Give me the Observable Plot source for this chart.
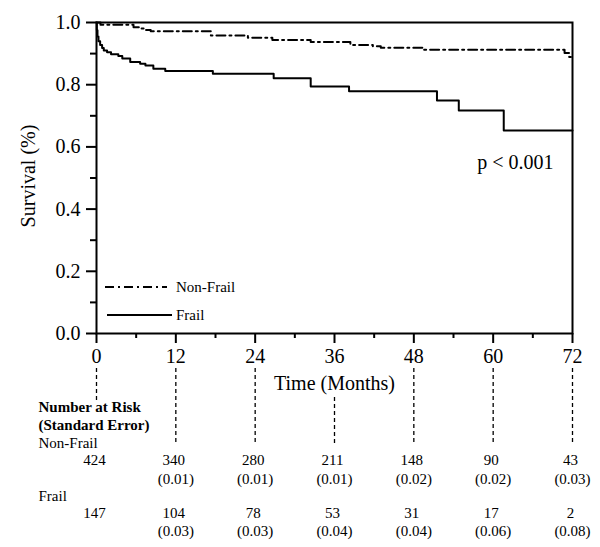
<!DOCTYPE html>
<html>
<head>
<meta charset="utf-8">
<script src="https://cdn.jsdelivr.net/npm/d3@7"></script>
<script src="https://cdn.jsdelivr.net/npm/@observablehq/plot@0.6"></script>
<style>
  html, body { margin: 0; padding: 0; background: #fff; }
  #wrap { position: relative; width: 600px; height: 547px; font-family: "Liberation Serif", "Times New Roman", serif; }
  #legend { position: absolute; left: 0; top: 0; pointer-events: none; }
</style>
</head>
<body>
<div id="wrap"></div>
<script>
// ---- Data ----
const frailTime = [0, 0.05, 0.15, 0.3, 0.55, 0.85, 1.1, 1.6, 2.2, 3.3, 3.9, 5.1, 6.6, 7.4, 8.6, 10.4, 17.6, 26.8, 32.4, 38.2, 51.5, 54.8, 61.6, 72];
const frailSurv = [1.0, 0.975, 0.955, 0.94, 0.928, 0.918, 0.91, 0.904, 0.898, 0.892, 0.884, 0.873, 0.867, 0.862, 0.851, 0.844, 0.835, 0.821, 0.794, 0.779, 0.749, 0.717, 0.653, 0.653];

const nonFrailTime = [0, 0.6, 5.6, 6.6, 7.4, 8.2, 17.3, 22.9, 26.6, 32.4, 38.4, 41.8, 43.0, 49.5, 70.8, 71.5, 72];
const nonFrailSurv = [1.0, 0.993, 0.985, 0.981, 0.976, 0.972, 0.958, 0.951, 0.944, 0.937, 0.928, 0.924, 0.919, 0.912, 0.902, 0.889, 0.889];

const riskTimes = [0, 12, 24, 36, 48, 60, 72];
const nonFrailRisk = [424, 340, 280, 211, 148, 90, 43];
const nonFrailSE = ["", "(0.01)", "(0.01)", "(0.01)", "(0.02)", "(0.02)", "(0.03)"];
const frailRisk = [147, 104, 78, 53, 31, 17, 2];
const frailSE = ["", "(0.03)", "(0.03)", "(0.04)", "(0.04)", "(0.06)", "(0.08)"];

const yMajor = [0, 0.2, 0.4, 0.6, 0.8, 1.0];
const yMinor = [0.1, 0.3, 0.5, 0.7, 0.9];
const xMajor = [0, 12, 24, 36, 48, 60, 72];
const xMinor = [6, 18, 30, 42, 54, 66];

const seriesNames = ["Non-Frail", "Frail"];
const pText = "p < 0.001";

// ---- Build tables ----
const frail = frailTime.map((t, i) => ({t, s: frailSurv[i]}));
const nonFrail = nonFrailTime.map((t, i) => ({t, s: nonFrailSurv[i]}));
const risk = riskTimes.map((t, i) => ({t, nf: nonFrailRisk[i], nfse: nonFrailSE[i], f: frailRisk[i], fse: frailSE[i]}));

const dashNF = "9,4,2,4";
const serif = "Liberation Serif";
const mid = {lineAnchor: "middle"};
const guide = {strokeWidth: 1.3, strokeDasharray: "4,3", tickFormat: () => "", label: null};

const chart = Plot.plot({
  width: 600,
  height: 547,
  marginLeft: 96,
  marginRight: 28,
  marginTop: 22,
  marginBottom: 214,
  x: {domain: [0, 72]},
  y: {domain: [0, 1]},
  style: {fontFamily: serif, fontSize: "20px", color: "black", background: "white", overflow: "visible"},
  marks: [
    Plot.frame({stroke: "black", strokeWidth: 2}),
    Plot.axisY(yMajor, {tickSize: 10, tickPadding: 6, strokeWidth: 2, tickFormat: d3.format(".1f"), label: null, fontSize: 20}),
    Plot.axisY(yMinor, {tickSize: 6, strokeWidth: 2, tickFormat: () => "", label: null}),
    Plot.axisX(xMajor, {tickSize: 10, tickPadding: 5, strokeWidth: 2, label: null, fontSize: 20}),
    Plot.axisX(xMinor, {tickSize: 5, strokeWidth: 2, tickFormat: () => "", label: null}),
    // dashed guides from ticks down to the risk table
    Plot.axisX([xMajor[1], xMajor[2], xMajor[4], xMajor[5], xMajor[6]], {tickSize: 77, dy: 35, ...guide}),
    Plot.axisX([xMajor[3]], {tickSize: 48, dy: 64, ...guide}),
    Plot.axisX([xMajor[0]], {tickSize: 32, dy: 35, ...guide}),
    // survival curves
    Plot.line(nonFrail, {x: "t", y: "s", curve: "step-after", stroke: "black", strokeWidth: 2, strokeDasharray: dashNF}),
    Plot.line(frail, {x: "t", y: "s", curve: "step-after", stroke: "black", strokeWidth: 2}),
    // axis titles
    Plot.text(["Time (Months)"], {text: d => d, frameAnchor: "bottom", dy: 50, fontSize: 20, ...mid}),
    Plot.text(["Survival (%)"], {text: d => d, frameAnchor: "left", textAnchor: "middle", rotate: -90, dx: -68, dy: -2, fontSize: 20, ...mid}),
    Plot.text([pText], {text: d => d, frameAnchor: "top-right", textAnchor: "end", dx: -19, dy: 140, fontSize: 20, ...mid}),
    // risk table labels
    Plot.text(["Number at Risk"], {text: d => d, frameAnchor: "bottom-left", textAnchor: "start", dx: -58, dy: 74, fontSize: 15, fontWeight: "bold", ...mid}),
    Plot.text(["(Standard Error)"], {text: d => d, frameAnchor: "bottom-left", textAnchor: "start", dx: -58, dy: 92, fontSize: 15, fontWeight: "bold", ...mid}),
    Plot.text([seriesNames[0]], {text: d => d, frameAnchor: "bottom-left", textAnchor: "start", dx: -58, dy: 110, fontSize: 15, ...mid}),
    Plot.text([seriesNames[1]], {text: d => d, frameAnchor: "bottom-left", textAnchor: "start", dx: -58, dy: 163, fontSize: 15, ...mid}),
    // risk table values
    Plot.text(risk, {x: "t", text: "nf", frameAnchor: "bottom", dy: 127, fontSize: 15, dx: -2, ...mid}),
    Plot.text(risk, {x: "t", text: "nfse", frameAnchor: "bottom", dy: 146, fontSize: 15, ...mid}),
    Plot.text(risk, {x: "t", text: "f", frameAnchor: "bottom", dy: 180, fontSize: 15, dx: -2, ...mid}),
    Plot.text(risk, {x: "t", text: "fse", frameAnchor: "bottom", dy: 198, fontSize: 15, ...mid})
  ]
});

const wrap = document.getElementById("wrap");
wrap.appendChild(chart);

// legend overlay (inside the plot area, lower-left)
const legendItems = [
  {name: seriesNames[0], dash: dashNF, x1: 105, x2: 167, y: 287},
  {name: seriesNames[1], dash: null, x1: 107, x2: 172, y: 315}
];
const ns = "http://www.w3.org/2000/svg";
const lg = document.createElementNS(ns, "svg");
lg.setAttribute("id", "legend");
lg.setAttribute("width", 600);
lg.setAttribute("height", 547);
for (const it of legendItems) {
  const l = document.createElementNS(ns, "line");
  l.setAttribute("x1", it.x1); l.setAttribute("x2", it.x2);
  l.setAttribute("y1", it.y); l.setAttribute("y2", it.y);
  l.setAttribute("stroke", "black"); l.setAttribute("stroke-width", 2);
  if (it.dash) l.setAttribute("stroke-dasharray", it.dash);
  lg.appendChild(l);
  const t = document.createElementNS(ns, "text");
  t.setAttribute("x", 176); t.setAttribute("y", it.y);
  t.setAttribute("dy", "0.35em");
  t.setAttribute("font-family", serif);
  t.setAttribute("font-size", 15);
  t.textContent = it.name;
  lg.appendChild(t);
}
wrap.appendChild(lg);
</script>
</body>
</html>
